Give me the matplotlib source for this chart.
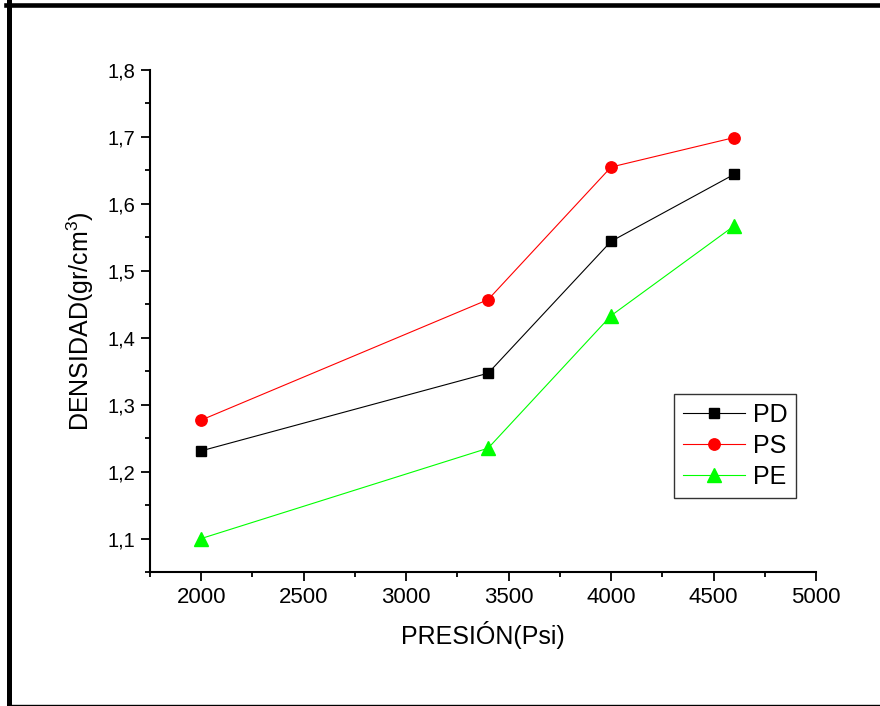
import matplotlib
matplotlib.use("Agg")
from matplotlib import pyplot as plt
from matplotlib.lines import Line2D
from matplotlib.ticker import MultipleLocator

plt.rcParams['font.family'] = ['Liberation Sans', 'DejaVu Sans']
plt.rcParams['mathtext.default'] = 'regular'

## data
presion = [2000, 3400, 4000, 4600]
pd_vals = [1.231, 1.347, 1.544, 1.644]
ps_vals = [1.277, 1.457, 1.655, 1.699]
pe_vals = [1.100, 1.235, 1.433, 1.567]

xticks = [2000, 2500, 3000, 3500, 4000, 4500, 5000]
yticks = [1.1, 1.2, 1.3, 1.4, 1.5, 1.6, 1.7, 1.8]
ytick_labels = ['1,1', '1,2', '1,3', '1,4', '1,5', '1,6', '1,7', '1,8']

fig = plt.figure(figsize=(8.8, 7.06), dpi=100)
ax = fig.add_axes([150/880, 1-572/706, (816-150)/880, (572-70)/706])

ax.plot(presion, pd_vals, color='black', lw=0.8, marker='s', ms=7.2, label='PD')
ax.plot(presion, ps_vals, color='#ff0000', lw=0.8, marker='o', ms=8.2, label='PS')
ax.plot(presion, pe_vals, color='#00ff00', lw=0.8, marker='^', ms=9.5, label='PE')

ax.set_xlim(1750, 5000)
ax.set_ylim(1.05, 1.8)
ax.set_xticks(xticks)
ax.set_yticks(yticks)
ax.set_yticklabels(ytick_labels)
ax.xaxis.set_minor_locator(MultipleLocator(250))
ax.yaxis.set_minor_locator(MultipleLocator(0.05))

for s in ['top', 'right']:
    ax.spines[s].set_visible(False)
for s in ['left', 'bottom']:
    ax.spines[s].set_linewidth(1.5)
ax.tick_params(which='major', direction='out', length=6.5, width=1.3, pad=4)
ax.tick_params(which='minor', direction='out', length=3.5, width=1.3)
ax.tick_params(axis='x', which='major', labelsize=16)
ax.tick_params(axis='y', which='major', labelsize=14.5)

ax.set_xlabel('PRESIÓN(Psi)', fontsize=18, labelpad=10)
ax.set_ylabel('DENSIDAD(gr/cm$^{3}$)', fontsize=18, labelpad=8)

leg = ax.legend(loc='upper left', bbox_to_anchor=(674/880, 1-394/706),
                bbox_transform=fig.transFigure, borderaxespad=0,
                fontsize=18, handlelength=2.5, handletextpad=0.3,
                labelspacing=0.28, borderpad=0.35, fancybox=False)
leg.get_frame().set_edgecolor('black')
leg.get_frame().set_linewidth(1.0)

## outer frame (right side is cut off in the original)
fig.add_artist(Line2D([9/880, 9/880], [0, 1-2/706], transform=fig.transFigure,
                      color='black', lw=3.6))
fig.add_artist(Line2D([6/880, 1], [1-5/706, 1-5/706], transform=fig.transFigure,
                      color='black', lw=3.3))
fig.add_artist(Line2D([9/880, 1], [1/706, 1/706], transform=fig.transFigure,
                      color='black', lw=1.0))

fig.savefig('out.png', dpi=100)
